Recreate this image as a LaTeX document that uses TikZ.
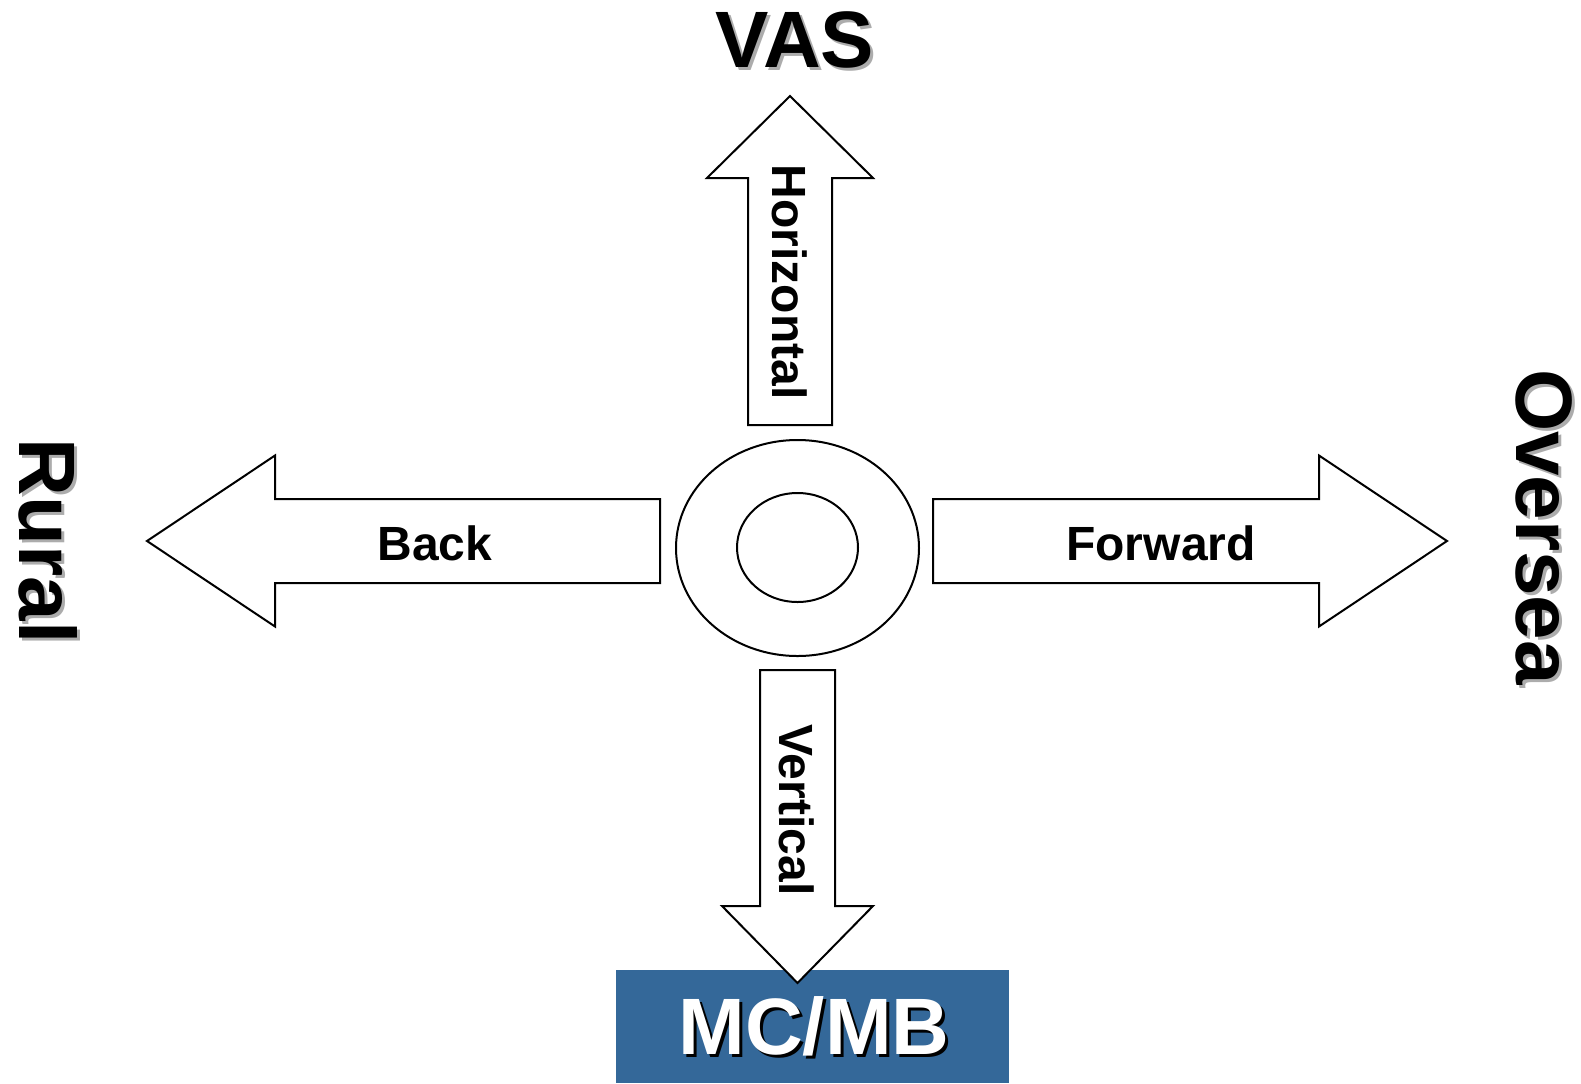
\documentclass[tikz,border=0pt]{standalone}
\usepackage{fontspec}
\setmainfont{Liberation Sans}
\usetikzlibrary{shapes.geometric}
\definecolor{boxblue}{RGB}{52,104,153}
\definecolor{shadowgray}{RGB}{172,172,172}
\tikzset{
  blockarrow/.style={draw=black, fill=white, line width=1pt, line join=miter},
  bigtext/.style={font=\fontsize{40}{48}\selectfont\bfseries, inner sep=0pt, anchor=base},
  smalltext/.style={font=\fontsize{24}{29}\selectfont\bfseries, inner sep=0pt, anchor=base},
  ring/.style={draw=black, ellipse, line width=1pt, inner sep=0pt},
  panel/.style={fill=boxblue, inner sep=0pt},
}
\begin{document}
\begin{tikzpicture}[x=0.5pt,y=-0.5pt]
\useasboundingbox (0,0) rectangle (1581,1083);

% blue target box
\node[panel, minimum width=196.5pt, minimum height=56.5pt] (box) at (812.5,1026) {};

% central rings
\node[ring, minimum width=121.5pt, minimum height=108pt] (outer) at (797.5,548) {};
\node[ring, minimum width=60.5pt, minimum height=54.5pt] (inner) at (797.5,547.5) {};

% up arrow (Horizontal)
\draw[blockarrow] (748,425) -- (748,178) -- (707,178) -- (790,96) -- (873,178) -- (832,178) -- (832,425) -- cycle;
% down arrow (Vertical)
\draw[blockarrow] (760,670) -- (835,670) -- (835,906) -- (873,906) -- (797.5,983) -- (722,906) -- (760,906) -- cycle;
% left arrow (Back)
\draw[blockarrow] (147,541) -- (275,455.5) -- (275,499) -- (660,499) -- (660,583) -- (275,583) -- (275,626.5) -- cycle;
% right arrow (Forward)
\draw[blockarrow] (933,499) -- (1319,499) -- (1319,455.5) -- (1447,541) -- (1319,626.5) -- (1319,583) -- (933,583) -- cycle;

% arrow labels
\node[smalltext] (back) at (435,560) {Back};
\node[smalltext] (forward) at (1161,560) {Forward};
\node[smalltext, rotate=-90] (horizontal) at (772,282) {Horizontal};
\node[smalltext, rotate=-90] (vertical) at (779,810) {Vertical};

% outer labels with shadows
\node[bigtext, text=shadowgray] (vas-s) at (798,70) {VAS};
\node[bigtext] (vas) at (795,67) {VAS};

\node[bigtext, text=shadowgray, rotate=-90] (rural-s) at (22,544) {Rural};
\node[bigtext, rotate=-90] (rural) at (19,541) {Rural};

\node[bigtext, text=shadowgray, rotate=-90] (oversea-s) at (1519,530) {Oversea};
\node[bigtext, rotate=-90] (oversea) at (1516,527) {Oversea};

\node[bigtext, text=black] (mcmb-s) at (817,1057) {MC/MB};
\node[bigtext, text=white] (mcmb) at (814,1054) {MC/MB};
\end{tikzpicture}
\end{document}
